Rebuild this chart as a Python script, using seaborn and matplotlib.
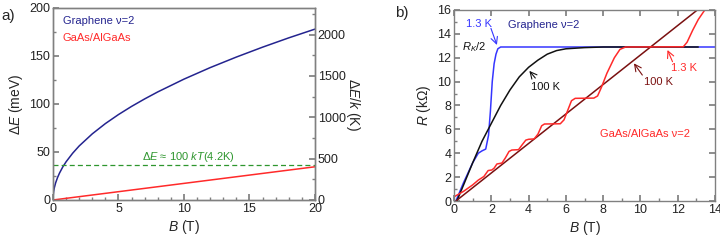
import matplotlib
matplotlib.use("Agg")
import matplotlib.pyplot as plt
from matplotlib.ticker import MultipleLocator
import seaborn as sns
import pandas as pd

# panel a: level spacing vs field
graphene_b = [0, 0.01, 0.05, 0.1, 0.2, 0.35, 0.5, 0.75, 1, 1.5, 2, 3, 4, 5, 6, 7, 8, 10, 12, 14, 16, 18, 20]
graphene_de = [0, 4.0, 8.9, 12.6, 17.8, 23.5, 28.1, 34.5, 39.8, 48.7, 56.3, 68.9, 79.6, 89.0, 97.5,
               105.3, 112.6, 125.9, 137.9, 148.9, 159.2, 168.9, 178.0]
gaas_b = [0, 20]
gaas_de = [0, 34.6]
kt_level = 36.2  # 100 kT at 4.2 K, meV
mev_to_k = 11.6045

# panel b: Hall resistance
blue_b = [0.1, 0.5, 1.0, 1.3, 1.5, 1.7, 1.85, 1.95, 2.05, 2.15, 2.25, 2.35, 2.5, 3, 14]
blue_r = [0, 1.5, 3.2, 4.0, 4.2, 4.35, 5.5, 7.5, 10.0, 11.5, 12.3, 12.75, 12.9, 12.9, 12.9]
black_b = [0.15, 0.5, 1.0, 1.5, 2.0, 2.5, 3.0, 3.5, 4.0, 4.5, 5.0, 5.5, 6, 7, 8, 10, 13.1]
black_r = [0, 1.3, 3.2, 5.0, 6.5, 8.0, 9.3, 10.4, 11.2, 11.8, 12.3, 12.6, 12.75, 12.85, 12.9, 12.9, 12.9]
gaas100_b = [0.1, 13.05]
gaas100_r = [0, 16]
gaas13_b = [0, 0.5, 1.0, 1.3, 1.45, 1.6, 1.83, 2.03, 2.15, 2.3, 2.57, 2.75, 2.95, 3.1, 3.46, 3.65,
            3.85, 4.0, 4.3, 4.5, 4.7, 4.85, 5.7, 5.9, 6.1, 6.3, 6.5, 7.5, 7.7, 7.9, 8.2, 8.6, 8.9,
            9.2, 12.3, 12.5, 12.8, 13.1, 13.45]
gaas13_r = [0.35, 0.8, 1.35, 1.75, 1.9, 2.05, 2.55, 2.6, 2.75, 3.1, 3.18, 3.6, 4.15, 4.27, 4.3, 4.7,
            5.1, 5.17, 5.2, 5.6, 6.3, 6.45, 6.47, 6.8, 7.6, 8.4, 8.6, 8.62, 8.8, 9.5, 10.7, 12.0, 12.7,
            12.9, 12.92, 13.3, 14.3, 15.2, 16.0]

navy = "#24248f"
blue = "#3535ff"
red = "#ff2a2a"
darkred = "#7a1010"
green = "#2e962e"
grey = "#808080"

sns.set_theme(style="ticks")
plt.rcParams["font.family"] = ["Liberation Sans", "DejaVu Sans"]
plt.rcParams["mathtext.fontset"] = "custom"
plt.rcParams["mathtext.rm"] = "Liberation Sans"
plt.rcParams["mathtext.it"] = "Liberation Sans:italic"
plt.rcParams["xtick.direction"] = "in"
plt.rcParams["ytick.direction"] = "in"
plt.rcParams["axes.edgecolor"] = grey
plt.rcParams["xtick.color"] = grey
plt.rcParams["ytick.color"] = grey
plt.rcParams["xtick.labelcolor"] = "#222222"
plt.rcParams["ytick.labelcolor"] = "#222222"
plt.rcParams["axes.linewidth"] = 1.0

fig = plt.figure(figsize=(7.2, 2.42), dpi=100)
ax = fig.add_axes([0.0736, 0.1736, 0.3639, 0.7934])
bx = fig.add_axes([0.6306, 0.1694, 0.3625, 0.7893])

lw = 1.1
sns.lineplot(x=graphene_b, y=graphene_de, ax=ax, color=navy, lw=lw)
sns.lineplot(x=gaas_b, y=gaas_de, ax=ax, color=red, lw=lw)
ax.axhline(kt_level, color=green, lw=0.9, ls=(0, (4, 2.5)))
ax.set_xlim(0, 20)
ax.set_ylim(0, 200)
ax.xaxis.set_major_locator(MultipleLocator(5))
ax.xaxis.set_minor_locator(MultipleLocator(1))
ax.yaxis.set_major_locator(MultipleLocator(50))
ax.yaxis.set_minor_locator(MultipleLocator(25))
ax.tick_params(which="both", labelsize=9, pad=2)
ax.tick_params(which="major", length=4)
ax.tick_params(which="minor", length=2)
ax.set_xlabel(r"$B$ (T)", fontsize=10, labelpad=2)
ax.set_ylabel(r"$\Delta E$ (meV)", fontsize=10, labelpad=3)
ax.text(0.76, 186.8, "Graphene ν=2", color=navy, fontsize=8, va="center")
ax.text(0.76, 168.8, "GaAs/AlGaAs", color=red, fontsize=8, va="center")
ax.text(10.35, 44.8, r"$\Delta E$ ≈ 100 $kT$(4.2K)", color=green, fontsize=8, ha="center", va="center")

ax2 = ax.twinx()
ax2.set_ylim(0, 200 * mev_to_k)
ax2.yaxis.set_major_locator(MultipleLocator(500))
ax2.yaxis.set_minor_locator(MultipleLocator(250))
ax2.tick_params(which="both", labelsize=9, pad=2)
ax2.tick_params(which="major", length=4)
ax2.tick_params(which="minor", length=2)
ax2.set_ylabel(r"$\Delta E/k$ (K)", fontsize=10, rotation=270, labelpad=12)

sns.lineplot(x=blue_b, y=blue_r, ax=bx, color=blue, lw=lw)
sns.lineplot(x=black_b, y=black_r, ax=bx, color="#111111", lw=lw)
sns.lineplot(x=gaas100_b, y=gaas100_r, ax=bx, color=darkred, lw=lw)
sns.lineplot(x=gaas13_b, y=gaas13_r, ax=bx, color=red, lw=lw)
bx.set_xlim(0, 14)
bx.set_ylim(0, 16)
bx.xaxis.set_major_locator(MultipleLocator(2))
bx.xaxis.set_minor_locator(MultipleLocator(1))
bx.yaxis.set_major_locator(MultipleLocator(2))
bx.yaxis.set_minor_locator(MultipleLocator(1))
bx.tick_params(which="both", labelsize=9, pad=2, top=True, right=True)
bx.tick_params(which="minor", top=False, right=False, length=2)
bx.tick_params(which="major", length=4)
bx.set_xlabel(r"$B$ (T)", fontsize=10, labelpad=2)
bx.set_ylabel(r"$R$ (kΩ)", fontsize=10, labelpad=3)

bx.text(4.79, 14.74, "Graphene ν=2", color=navy, fontsize=8, ha="center", va="center")
bx.text(1.08, 12.9, r"$R_K$/2", color="#111111", fontsize=8, ha="center", va="center")
bx.text(10.23, 5.61, "GaAs/AlGaAs ν=2", color=red, fontsize=8, ha="center", va="center")
notes = [
    ("1.3 K", (1.32, 14.8), (2.3, 13.07), (1.98, 14.46), blue),
    ("100 K", (4.9, 9.55), (4.04, 10.9), (4.36, 10.3), "#111111"),
    ("100 K", (10.98, 9.97), (9.65, 11.53), (10.1, 10.55), darkred),
    ("1.3 K", (12.36, 11.14), (11.45, 12.65), (11.72, 11.67), red),
]
for label, pos, head, tail, col in notes:
    bx.text(pos[0], pos[1], label, color=col, fontsize=8, ha="center", va="center")
    bx.annotate("", xy=head, xytext=tail,
                arrowprops=dict(arrowstyle="->", color=col, lw=0.8, shrinkA=0, shrinkB=0))

fig.text(0.002, 0.935, "a)", fontsize=11, va="center")
fig.text(0.548, 0.945, "b)", fontsize=11, va="center")

fig.savefig("out.png", dpi=100)
